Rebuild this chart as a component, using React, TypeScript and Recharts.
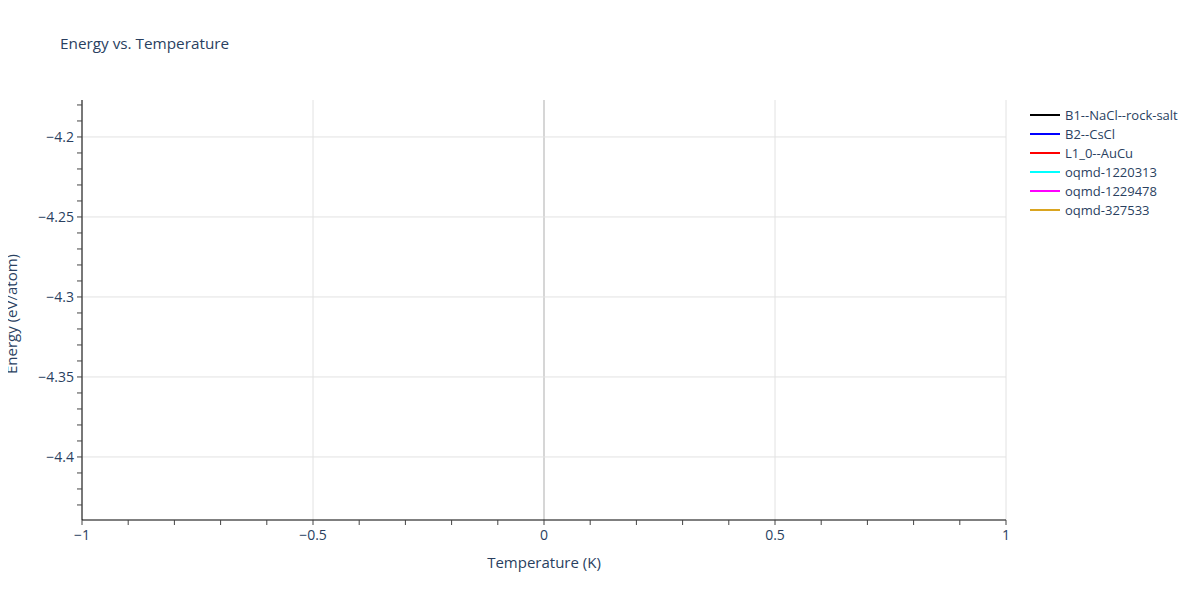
import { LineChart, Line, XAxis, YAxis, ReferenceLine } from "recharts";

const temperatures = [0];
const seriesNames = ["B1--NaCl--rock-salt", "B2--CsCl", "L1_0--AuCu", "oqmd-1220313", "oqmd-1229478", "oqmd-327533"];
const seriesColors = ["#000000", "#0000ff", "#ff0000", "#00ffff", "#ff00ff", "#daa520"];
// one energy per structure, all at T = 0 K (single points, so no line shows)
const energies = [-4.1888, -4.4275, -4.3, -4.35, -4.25, -4.4];

const xMajorTicks = [-1, -0.5, 0, 0.5, 1];
const yMajorTicks = [-4.4, -4.35, -4.3, -4.25, -4.2];
const xDomain = [-1, 1];
const yDomain = [-4.4394, -4.1769];

const steps = (from: number, to: number, step: number) => {
  const out: number[] = [];
  for (let v = from; v <= to + 1e-9; v += step) out.push(Math.round(v * 1000) / 1000);
  return out;
};
const xTicks = steps(-1, 1, 0.1);
const yTicks = steps(-4.43, -4.18, 0.01);

const isMajor = (v: number, majors: number[]) => majors.some((m) => Math.abs(m - v) < 1e-6);
const fmt = (v: number) => String(v).replace("-", "\u2212");

const data = temperatures.map((t) => {
  const row: Record<string, number> = { t };
  seriesNames.forEach((name, s) => {
    row[name] = energies[s];
  });
  return row;
});

const font = '"Open Sans", verdana, arial, sans-serif';
const textColor = "#2a3f5f";

export default function App() {
  return (
    <div style={{ position: "relative", width: 1200, height: 600, margin: -8, background: "#fff", fontFamily: font }}>
      <div style={{ position: "absolute", left: 60, top: 33, fontSize: 15.3, color: textColor }}>Energy vs. Temperature</div>
      <LineChart width={1200} height={600} data={data} margin={{ top: 100, right: 194, bottom: 0, left: 0 }}>
        {xMajorTicks.map((v) => (
          <ReferenceLine key={"gx" + v} x={v} stroke={v === 0 ? "#d6d6d6" : "#e2e2e2"} strokeWidth={v === 0 ? 2 : 1} />
        ))}
        {yMajorTicks.map((v) => (
          <ReferenceLine key={"gy" + v} y={v} stroke="#e2e2e2" strokeWidth={1} />
        ))}
        <XAxis
          dataKey="t"
          type="number"
          domain={xDomain}
          ticks={xTicks}
          interval={0}
          height={80}
          tickSize={5}
          tickMargin={5}
          allowDataOverflow
          axisLine={{ stroke: "#000", strokeWidth: 1 }}
          tickLine={{ stroke: "#444" }}
          tickFormatter={(v: number) => (isMajor(v, xMajorTicks) ? fmt(v) : "")}
          tick={{ fill: textColor, fontSize: 14, fontFamily: font }}
          label={{ value: "Temperature (K)", position: "insideBottom", offset: 32, fill: textColor, fontSize: 15, fontFamily: font }}
        />
        <YAxis
          type="number"
          domain={yDomain}
          ticks={yTicks}
          interval={0}
          width={82}
          tickSize={5}
          tickMargin={3}
          allowDataOverflow
          axisLine={{ stroke: "#000", strokeWidth: 1 }}
          tickLine={{ stroke: "#444" }}
          tickFormatter={(v: number) => (isMajor(v, yMajorTicks) ? fmt(v) : "")}
          tick={{ fill: textColor, fontSize: 14, fontFamily: font }}
        />
        {seriesNames.map((name, s) => (
          <Line
            key={name}
            dataKey={name}
            stroke={seriesColors[s]}
            strokeWidth={2}
            dot={() => <g key={name + "-dot"} />}
            activeDot={false}
            isAnimationActive={false}
          />
        ))}
      </LineChart>
      <div
        style={{
          position: "absolute",
          left: 11,
          top: 314,
          transform: "translate(-50%, -50%) rotate(-90deg)",
          whiteSpace: "nowrap",
          fontSize: 15,
          color: textColor,
        }}
      >
        Energy (eV/atom)
      </div>
      <div style={{ position: "absolute", left: 1030, top: 105 }}>
        {seriesNames.map((name, s) => (
          <div key={name} style={{ display: "flex", alignItems: "center", height: 19, fontSize: 13, color: textColor }}>
            <span style={{ display: "inline-block", width: 30, height: 2, background: seriesColors[s], marginRight: 5 }} />
            {name}
          </div>
        ))}
      </div>
    </div>
  );
}
